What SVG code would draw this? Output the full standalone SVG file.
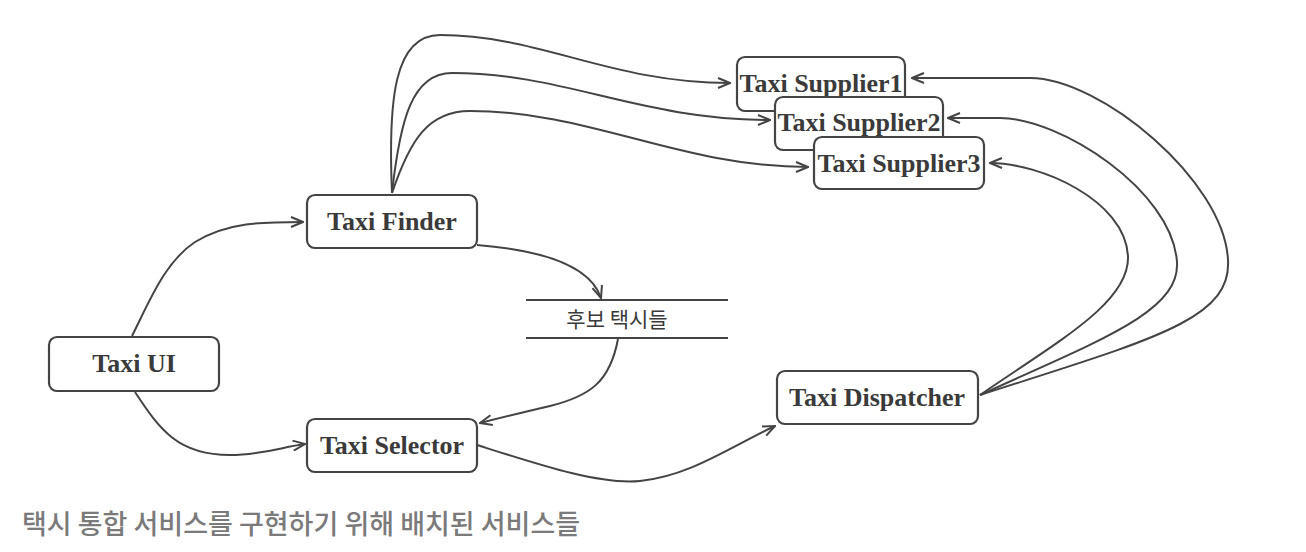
<svg xmlns="http://www.w3.org/2000/svg" width="1306" height="552" viewBox="0 0 1306 552">
<style>
.box{fill:#fff;stroke:#444;stroke-width:2.2}
.lbl{font-family:"Liberation Serif",serif;font-weight:bold;font-size:26px;fill:#3a3a3a;text-anchor:middle}
.kr{font-family:"Noto Sans CJK KR",sans-serif;font-size:21px;fill:#3a3a3a;text-anchor:middle}
.cap{font-family:"Noto Sans CJK KR",sans-serif;font-weight:500;font-size:27px;fill:#7a7a7a}
.edge{fill:none;stroke:#444;stroke-width:2;marker-end:url(#arr)}
.store{stroke:#444;stroke-width:2}
</style>
<defs>
<marker id="arr" viewBox="0 0 14 12" refX="13" refY="6" markerWidth="14" markerHeight="12" markerUnits="userSpaceOnUse" orient="auto">
<path d="M1,1 L13,6 L1,11" fill="none" stroke="#444" stroke-width="2"/>
</marker>
</defs>
<rect width="1306" height="552" fill="#fff"/>
<g id="connectors">
<path class="edge" d="M392,193 C388,100 394,35 440,35 C540,35 610,83 730,83"/>
<path class="edge" d="M392,193 C400,120 412,73 452,73 C565,73 640,120 770,120"/>
<path class="edge" d="M392,193 C410,140 428,111 470,111 C590,111 680,167 808,167"/>
<path class="edge" d="M132,336 C150,300 165,262 195,242 C228,222 262,222 303,222"/>
<path class="edge" d="M135,392 C160,430 178,455 230,455 C262,455 282,447 305,444"/>
<path class="edge" d="M477,245 C540,250 590,265 601,298"/>
<path class="edge" d="M618,339 C610,382 590,396 550,406 C520,413 500,418 480,423"/>
<path class="edge" d="M477,445 C540,465 600,485 640,481 C690,476 730,447 775,426"/>
<path class="edge" d="M980,395 C1150,340 1232,320 1228,260 C1224,180 1100,78 1030,78 C990,78 950,78 912,78"/>
<path class="edge" d="M980,395 C1100,340 1180,312 1177,262 C1172,190 1060,118 1000,118 C980,118 965,118 948,118"/>
<path class="edge" d="M980,395 C1060,340 1130,302 1128,256 C1125,200 1040,163 990,163"/>
</g>
<g id="supplier1"><rect class="box" x="737" y="57" width="168" height="54" rx="8"/><text class="lbl" x="821" y="92">Taxi Supplier1</text></g>
<g id="supplier2"><rect class="box" x="775" y="97" width="168" height="53" rx="8"/><text class="lbl" x="859" y="131">Taxi Supplier2</text></g>
<g id="supplier3"><rect class="box" x="814" y="137" width="170" height="52" rx="8"/><text class="lbl" x="899" y="172">Taxi Supplier3</text></g>
<g id="finder"><rect class="box" x="307" y="195" width="170" height="53" rx="8"/><text class="lbl" x="392" y="230">Taxi Finder</text></g>
<g id="candidates"><line class="store" x1="526" y1="300" x2="728" y2="300"/><line class="store" x1="526" y1="338" x2="728" y2="338"/><text class="kr" x="617" y="327">후보 택시들</text></g>
<g id="ui"><rect class="box" x="49" y="337" width="170" height="54" rx="8"/><text class="lbl" x="134" y="372">Taxi UI</text></g>
<g id="selector"><rect class="box" x="307" y="419" width="170" height="53" rx="8"/><text class="lbl" x="392" y="454">Taxi Selector</text></g>
<g id="dispatcher"><rect class="box" x="777" y="371" width="201" height="53" rx="8"/><text class="lbl" x="877" y="406">Taxi Dispatcher</text></g>
<text class="cap" x="22" y="534">택시 통합 서비스를 구현하기 위해 배치된 서비스들</text>
</svg>
